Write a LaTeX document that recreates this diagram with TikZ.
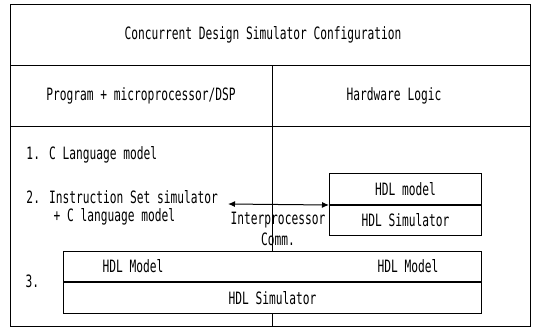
\documentclass[tikz,border=0pt]{standalone}
\usepackage{fontspec}
\newfontfamily\cdsfont[FakeStretch=0.66]{DejaVu Sans Mono}
\usetikzlibrary{arrows.meta}

\begin{document}
\begin{tikzpicture}[x=1pt,y=-1pt,line width=1pt,
	lbl/.style={font=\cdsfont\fontsize{17}{17}\selectfont,inner sep=0pt},
	cell/.style={lbl,draw,fill=white,minimum width=152pt,anchor=north west}]
			\useasboundingbox (0,0) rectangle (536,330);
			\draw(10,4) rectangle (530,326);
			\draw(10,65) -- (530,65);
			\draw(10,126) -- (530,126);
			\draw(272,65) -- (272,326);
			\node[lbl] (title) at (263,35) {Concurrent Design Simulator Configuration};
			\node[lbl] (swhead) at (141,96) {Program + microprocessor/DSP};
			\node[lbl] (hwhead) at (394,96) {Hardware Logic};
			\node[lbl,anchor=west] (cmodel) at (26,155) {1. C Language model};
			\node[lbl,anchor=west] (isstext) at (26,197) {2. Instruction Set simulator};
			\node[lbl,anchor=west] (isscmodel) at (53,217) {+ C language model};
			\node[lbl] (ipc) at (278,220) {Interprocessor};
			\node[lbl] (comm) at (278,239) {Comm.};
			\node[cell,minimum height=31pt] (hdlmod) at (329,173) {HDL model};
			\node[cell,minimum height=30pt] (hdlsim) at (hdlmod.south west) {HDL Simulator};
			\coordinate (commleft) at (228,204);
			\draw[{Latex[length=7pt,width=6pt]}-{Latex[length=7pt,width=6pt]}](commleft) -- (hdlmod.south west);
			\node[cell,minimum width=418pt,minimum height=30pt] (cosimmod) at (63,251) {};
			\node[cell,minimum width=418pt,minimum height=31pt] (cosimsim) at (cosimmod.south west) {HDL Simulator};
			\node[lbl] (swmod) at (133,266) {HDL Model};
			\node[lbl] (hwmod) at (408,266) {HDL Model};
			\node[lbl,anchor=west] (third) at (25,281) {3.};
		\end{tikzpicture}
\end{document}
